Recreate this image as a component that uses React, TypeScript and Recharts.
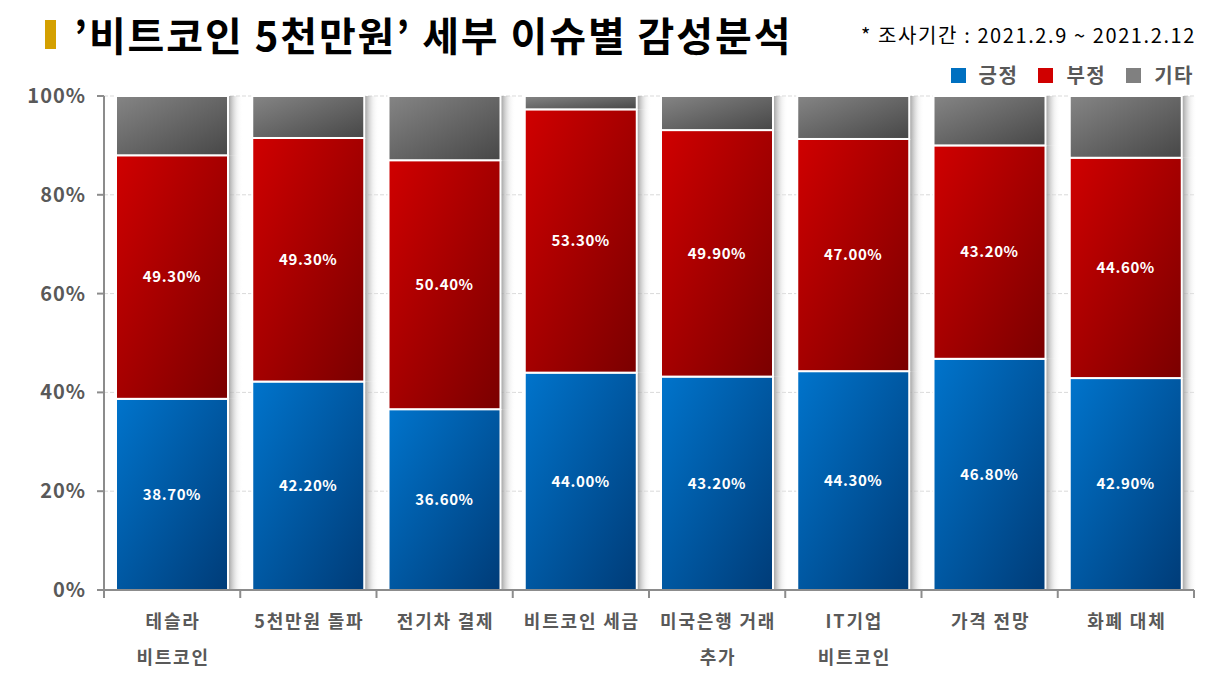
import React from "react";
import { BarChart, Bar, XAxis, YAxis, CartesianGrid, LabelList } from "recharts";

const categories = ["테슬라\n비트코인", "5천만원 돌파", "전기차 결제", "비트코인 세금", "미국은행 거래\n추가", "IT기업\n비트코인", "가격 전망", "화폐 대체"];
const positive = [38.7, 42.2, 36.6, 44.0, 43.2, 44.3, 46.8, 42.9];
const negative = [49.3, 49.3, 50.4, 53.3, 49.9, 47.0, 43.2, 44.6];
const other = [12.0, 8.5, 13.0, 2.7, 6.9, 8.7, 10.0, 12.5];
const yTicks = [0, 20, 40, 60, 80, 100];

const data = categories.map((c, i) => ({ name: c, pos: positive[i], neg: negative[i], oth: other[i] }));

const W = 1232;
const H = 682;
const M = { top: 96, right: 38, left: 0, bottom: 0 };
const YW = 104;
const plotW = W - M.left - M.right - YW;
const bw = plotW / categories.length;
const FONT = "'Noto Sans CJK KR', 'Noto Sans', sans-serif";

const makeShape = (grad: string) => (props: any) => {
  const { x, y, width, height } = props;
  if (!height || height <= 0) return <g />;
  return (
    <g>
      <rect x={x + width} y={y} width={15} height={height} fill="url(#shadowGrad)" />
      <rect x={x} y={y} width={width} height={height} fill={`url(#${grad})`} stroke="#ffffff" strokeWidth={2} />
    </g>
  );
};

const XTick = (props: any) => {
  const { x, y, payload, index } = props;
  const lines = String(payload.value).split("\n");
  return (
    <g>
      <line x1={x - bw / 2} y1={y - 8} x2={x - bw / 2} y2={y} stroke="#8c8c8c" strokeWidth={2} />
      {index === categories.length - 1 && (
        <line x1={x + bw / 2} y1={y - 8} x2={x + bw / 2} y2={y} stroke="#8c8c8c" strokeWidth={2} />
      )}
      {lines.map((l, i) => (
        <text key={i} x={x + 1} y={y + 30 + i * 36} textAnchor="middle" fill="#595959" fontSize={18} fontWeight="bold" fontFamily={FONT} letterSpacing={1.8}>
          {l}
        </text>
      ))}
    </g>
  );
};

const YTick = (props: any) => {
  const { x, y, payload } = props;
  return (
    <text x={x - 9} y={y + 7} textAnchor="end" fill="#595959" fontSize={20} fontWeight="bold" fontFamily={FONT} letterSpacing={1}>
      {payload.value}%
    </text>
  );
};

const fmt = (v: any) => `${Number(v).toFixed(2)}%`;

const legendItems = [
  { label: "긍정", color: "#0070C0" },
  { label: "부정", color: "#D00000" },
  { label: "기타", color: "#808080" },
];

export default function App() {
  return (
    <div style={{ position: "absolute", left: 0, top: 0, width: W, height: H, background: "#fff", fontFamily: FONT }}>
      <div style={{ position: "absolute", left: 45, top: 20, width: 11, height: 29, background: "#D4A000" }} />
      <div style={{ position: "absolute", left: 74, top: 8, fontSize: 40, fontWeight: "bold", color: "#000", lineHeight: "52px", whiteSpace: "nowrap", letterSpacing: 1.9 }}>
        ’비트코인 5천만원’ 세부 이슈별 감성분석
      </div>
      <div style={{ position: "absolute", right: 36, top: 21, fontSize: 20, color: "#000", lineHeight: "28px", whiteSpace: "nowrap", letterSpacing: 1.6 }}>
        * 조사기간 : 2021.2.9 ~ 2021.2.12
      </div>
      <div style={{ position: "absolute", right: 38, top: 61, display: "flex", alignItems: "center", whiteSpace: "nowrap" }}>
        {legendItems.map((it) => (
          <div key={it.label} style={{ display: "flex", alignItems: "center", marginLeft: 20 }}>
            <div style={{ width: 15, height: 15, background: it.color, marginRight: 13 }} />
            <span style={{ fontSize: 20, fontWeight: "bold", color: "#595959", lineHeight: "28px", letterSpacing: 1.5 }}>{it.label}</span>
          </div>
        ))}
      </div>
      <div style={{ position: "absolute", left: 0, top: 0 }}>
        <BarChart width={W} height={H} data={data} margin={M} barSize={112}>
          <defs>
            <linearGradient id="gBlue" x1="0" y1="0" x2="1" y2="1">
              <stop offset="0%" stopColor="#0074CC" />
              <stop offset="100%" stopColor="#003C78" />
            </linearGradient>
            <linearGradient id="gRed" x1="0" y1="0" x2="1" y2="1">
              <stop offset="0%" stopColor="#D00000" />
              <stop offset="100%" stopColor="#7A0000" />
            </linearGradient>
            <linearGradient id="gGray" x1="0" y1="0" x2="1" y2="1">
              <stop offset="0%" stopColor="#858585" />
              <stop offset="100%" stopColor="#474747" />
            </linearGradient>
            <linearGradient id="shadowGrad" x1="0" y1="0" x2="1" y2="0">
              <stop offset="0%" stopColor="#8f8f8f" stopOpacity={0.9} />
              <stop offset="60%" stopColor="#e0e0e0" stopOpacity={0.4} />
              <stop offset="100%" stopColor="#ffffff" stopOpacity={0} />
            </linearGradient>
          </defs>
          <CartesianGrid vertical={false} stroke="#d9d9d9" strokeDasharray="4 2" />
          <XAxis dataKey="name" interval={0} axisLine={{ stroke: "#8c8c8c", strokeWidth: 2 }} tickLine={false} tick={<XTick />} height={92} />
          <YAxis width={YW} domain={[0, 100]} ticks={yTicks} axisLine={{ stroke: "#8c8c8c", strokeWidth: 2 }} tickLine={{ stroke: "#8c8c8c", strokeWidth: 2 }} tickSize={7} tick={<YTick />} />
          <Bar dataKey="pos" stackId="a" isAnimationActive={false} shape={makeShape("gBlue")}>
            <LabelList dataKey="pos" position="center" formatter={fmt} fill="#ffffff" fontSize={15} fontWeight="bold" fontFamily={FONT} letterSpacing={0.6} />
          </Bar>
          <Bar dataKey="neg" stackId="a" isAnimationActive={false} shape={makeShape("gRed")}>
            <LabelList dataKey="neg" position="center" formatter={fmt} fill="#ffffff" fontSize={15} fontWeight="bold" fontFamily={FONT} letterSpacing={0.6} />
          </Bar>
          <Bar dataKey="oth" stackId="a" isAnimationActive={false} shape={makeShape("gGray")} />
        </BarChart>
      </div>
    </div>
  );
}
